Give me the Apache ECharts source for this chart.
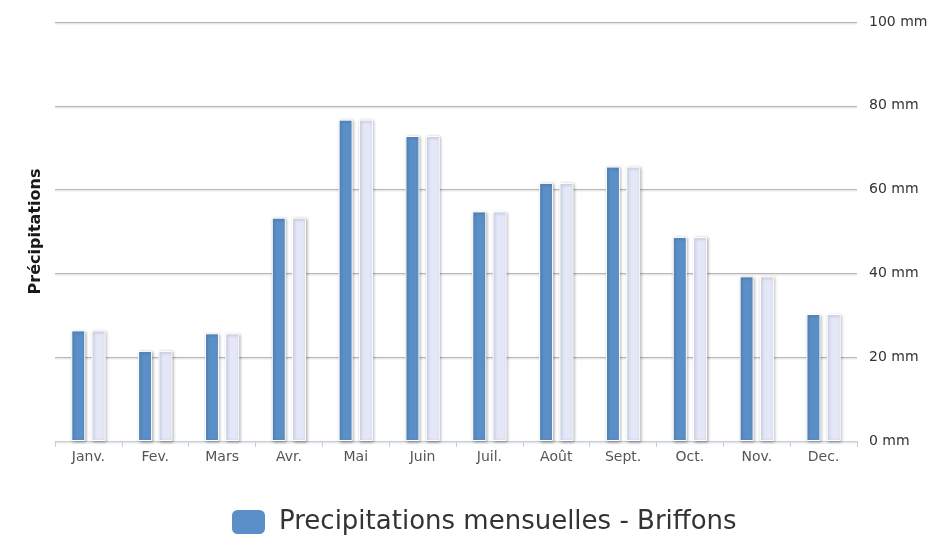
<!DOCTYPE html>
<html>
<head>
<meta charset="utf-8">
<script src="https://cdn.jsdelivr.net/npm/echarts@6/dist/echarts.min.js"></script>
<style>
  html, body { margin: 0; padding: 0; background: #fff; }
  #chart { width: 935px; height: 536px; }
</style>
</head>
<body>
<div id="chart"></div>
<script>
// Monthly rainfall at Briffons (mm)
const months = ['Janv.', 'Fev.', 'Mars', 'Avr.', 'Mai', 'Juin', 'Juil.', 'Août', 'Sept.', 'Oct.', 'Nov.', 'Dec.'];
const rainfall = [26.4, 21.5, 25.7, 53.3, 76.7, 72.8, 54.8, 61.6, 65.5, 48.7, 39.3, 30.3];
// Pale companion bars drawn beside each month
const companion = [26.4, 21.5, 25.7, 53.3, 76.7, 72.8, 54.8, 61.6, 65.5, 48.7, 39.3, 30.3];
const seriesName = 'Precipitations mensuelles - Briffons';
const axisTitle = 'Précipitations';
const unit = ' mm';

const font = 'DejaVu Sans';
const chart = echarts.init(document.getElementById('chart'), null, { renderer: 'canvas' });

const barShadow = {
  borderColor: '#ffffff',
  borderWidth: 1,
  shadowColor: 'rgba(0,0,0,0.32)',
  shadowBlur: 3,
  shadowOffsetX: 1,
  shadowOffsetY: 1
};

chart.setOption({
  animation: false,
  backgroundColor: '#ffffff',
  grid: { left: 55, right: 78, top: 22, bottom: 95 },
  legend: {
    data: [{ name: seriesName, icon: 'roundRect' }],
    bottom: -5,
    left: 225,
    itemWidth: 35,
    itemHeight: 26,
    itemGap: 10,
    textStyle: { fontFamily: font, fontSize: 26, color: '#333333', padding: [0, 0, 0, 8] }
  },
  xAxis: {
    type: 'category',
    data: months,
    axisLine: { lineStyle: { color: '#c0d0e0', width: 1 } },
    axisTick: { show: true, length: 6, lineStyle: { color: '#c0d0e0' } },
    axisLabel: { fontFamily: font, fontSize: 14, color: '#555555', margin: 9 }
  },
  yAxis: [
    {
      type: 'value',
      position: 'right',
      min: 0,
      max: 100,
      interval: 20,
      axisLine: { show: false },
      axisTick: { show: false },
      axisLabel: {
        fontFamily: font, fontSize: 14, color: '#333333', margin: 12,
        formatter: v => v + unit
      },
      splitLine: {
        lineStyle: {
          color: '#b8b8b8', width: 1.2,
          shadowColor: 'rgba(0,0,0,0.2)', shadowBlur: 2, shadowOffsetY: 1
        }
      }
    },
    {
      type: 'value',
      position: 'left',
      min: 0,
      max: 100,
      interval: 20,
      name: axisTitle,
      nameLocation: 'middle',
      nameRotate: 90,
      nameGap: 11,
      nameTextStyle: { fontFamily: font, fontSize: 16, fontWeight: 'bold', color: '#1a1a1a' },
      axisLine: { show: false },
      axisTick: { show: false },
      axisLabel: { show: false },
      splitLine: { show: false }
    }
  ],
  series: [
    {
      name: seriesName,
      type: 'bar',
      data: rainfall,
      barWidth: 14,
      barGap: '45%',
      itemStyle: Object.assign({ color: '#5b8fc7' }, barShadow)
    },
    {
      name: 'companion',
      type: 'bar',
      data: companion,
      barWidth: 14,
      itemStyle: Object.assign({ color: '#e3e7f8' }, barShadow)
    }
  ]
});
</script>
</body>
</html>
